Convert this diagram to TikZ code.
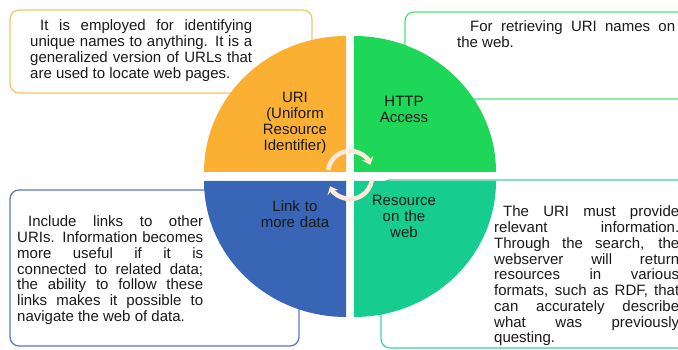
\documentclass[tikz,border=0pt]{standalone}
\usepackage{fontspec}
\setmainfont{Liberation Sans}
\usetikzlibrary{arrows.meta}
\definecolor{qorange}{RGB}{251,176,52}
\definecolor{qgreen}{RGB}{30,214,88}
\definecolor{qteal}{RGB}{22,204,143}
\definecolor{qblue}{RGB}{56,101,181}
\definecolor{borange}{RGB}{245,196,110}
\definecolor{bgreen}{RGB}{80,224,120}
\definecolor{bblue}{RGB}{90,120,196}
\definecolor{bteal}{RGB}{60,211,162}
\definecolor{arcol}{RGB}{255,234,218}
\definecolor{txt}{RGB}{25,25,25}
\begin{document}
\begin{tikzpicture}[x=1pt,y=1pt,
  infobox/.style={rounded corners=9pt, line width=1.3pt},
  para/.style={anchor=base west, inner sep=0pt, align=justify, text=txt,
    font=\fontsize{15}{15.75}\selectfont},
  qlabel/.style={anchor=base, inner sep=0pt, align=center, text=txt,
    font=\fontsize{15}{15.75}\selectfont},
  cyc/.style={line width=4.5pt, draw=arcol, -{Stealth[length=7pt,width=12pt]}}]
\useasboundingbox (0,0) rectangle (678,350);
\clip (0,0) rectangle (678,350);
% info boxes
\draw[infobox, draw=borange] (10,257) rectangle (312,340);
\draw[infobox, draw=bgreen] (405,251) rectangle (700,338);
\draw[infobox, draw=bblue] (10,4) rectangle (299,160);
\draw[infobox, draw=bteal] (381,2) rectangle (700,170);
% quadrants
\fill[qorange] (346,178) -- (204,178) arc[start angle=180, end angle=90, x radius=142, y radius=136] -- cycle;
\fill[qgreen] (354,178) -- (354,314) arc[start angle=90, end angle=0, x radius=142, y radius=136] -- cycle;
\fill[qblue] (346,169) -- (204,169) arc[start angle=180, end angle=270, x radius=142, y radius=136] -- cycle;
\fill[qteal] (354,169) -- (354,33) arc[start angle=270, end angle=360, x radius=142, y radius=136] -- cycle;
% cycle arrows
\coordinate (ctop) at (350,177);
\coordinate (cbot) at (350,173);
\draw[cyc] ([shift={(172:22)}]ctop) arc[start angle=172, end angle=22, radius=22];
\draw[cyc] ([shift={(-10:22)}]cbot) arc[start angle=-10, end angle=-155, radius=22];
% quadrant labels
\node[qlabel, text width=90pt] (uri) at (295,247) {URI\\(Uniform\\Resource\\Identifier)};
\node[qlabel, text width=80pt] (http) at (404,243) {HTTP\\Access};
\node[qlabel, text width=90pt] (link) at (295,138) {Link to\\more data};
\node[qlabel, text width=80pt] (res) at (404,144) {Resource\\on the\\web};
% box texts
\node[para, text width=222pt] (t1) at (30,319) {\hspace*{10pt}It is employed for identifying\linebreak unique names to anything. It is a\linebreak generalized version of URLs that\linebreak are used to locate web pages.};
\node[para, text width=218pt] (t2) at (457,318) {\hspace*{13pt}For retrieving URI names on\linebreak the web.};
\node[para, text width=186pt] (t3) at (17,123) {\hspace*{11pt}Include links to other\linebreak URIs. Information becomes\linebreak more useful if it is\linebreak connected to related data;\linebreak the ability to follow these\linebreak links makes it possible to\linebreak navigate the web of data.};
\node[para, text width=185pt] (t4) at (494,133) {\hspace*{9pt}The URI must provide\linebreak relevant information.\linebreak Through the search, the\linebreak webserver will return\linebreak resources in various\linebreak formats, such as RDF, that\linebreak can accurately describe\linebreak what was previously\linebreak questing.};
\end{tikzpicture}
\end{document}
